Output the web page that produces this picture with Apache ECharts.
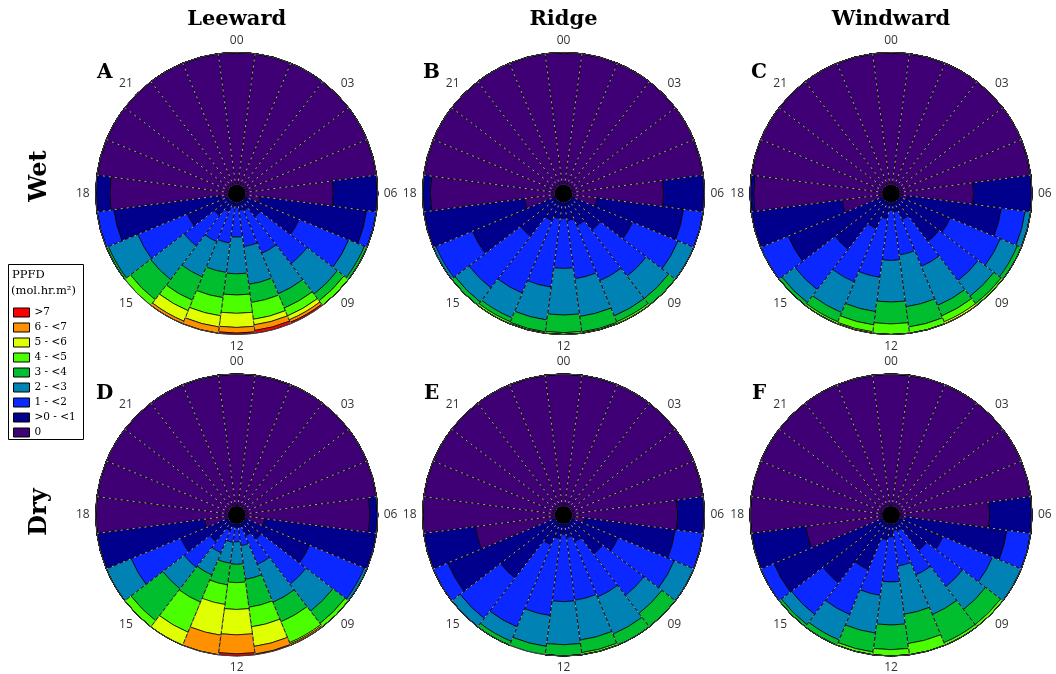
<!DOCTYPE html>
<html>
<head>
<meta charset="utf-8">
<script src="https://cdn.jsdelivr.net/npm/echarts@6/dist/echarts.min.js"></script>
<style>
  html, body { margin: 0; padding: 0; background: #fff; }
  #chart { width: 1056px; height: 674px; }
</style>
</head>
<body>
<div id="chart"></div>
<script>
// Hour of day around each clock (00 at the top, clockwise)
const hours = ['00','01','02','03','04','05','06','07','08','09','10','11',
               '12','13','14','15','16','17','18','19','20','21','22','23'];

// PPFD classes, stacked from the centre outwards
const classNames = ['0', '>0 - <1', '1 - <2', '2 - <3', '3 - <4', '4 - <5', '5 - <6', '6 - <7', '>7'];
const classColors = ['#3e0074', '#00008c', '#0a28ff', '#0082b4', '#00be2e', '#4cff00', '#e0ff00', '#ff9000', '#ff0000'];

// Share of days (%) in each class, one row per hour: [0, >0-<1, 1-<2, 2-<3, 3-<4, 4-<5, 5-<6, 6-<7, >7]
const leewardWet = [
  [100], [100], [100], [100], [100], [100],
  [68.5, 31.5],
  [17, 76, 7],
  [4, 44, 38, 12, 2],
  [3, 18, 42, 27, 6, 4],
  [3, 10, 33, 31, 11, 6, 3, 2, 1],
  [3, 9, 26, 27, 13, 12, 4, 4, 2],
  [3, 7, 21, 26, 15, 13, 10, 4, 1],
  [2, 8, 25.5, 21, 18, 13, 8, 4.5],
  [3, 11, 23, 27, 18, 8, 8, 2],
  [3, 17, 27, 30, 18, 5],
  [4, 34, 38, 22.5, 1.5],
  [12, 76, 12],
  [90, 10],
  [100], [100], [100], [100], [100]
];

const ridgeWet = [
  [100], [100], [100], [100], [100], [100],
  [71, 29],
  [24, 62, 14],
  [3, 50, 35, 12],
  [3, 30, 41, 20, 6],
  [3, 21.5, 42.5, 27, 4.5, 1.5],
  [3, 16.5, 41.5, 27, 11, 1],
  [3, 14.7, 35.5, 33, 12.5, 1.3],
  [3, 15, 49, 23.5, 8.5, 1],
  [3, 18, 55.5, 19, 3, 1.5],
  [3, 35.5, 46, 12.5, 3],
  [3, 67, 28, 2],
  [28, 72],
  [94.5, 5.5],
  [100], [100], [100], [100], [100]
];

const windwardWet = [
  [100], [100], [100], [100], [100], [100],
  [58.5, 41.5],
  [12, 67, 17, 4],
  [3, 42.5, 38.5, 13, 3],
  [3, 40, 35, 14, 6.5, 1.5],
  [3, 17, 36, 30, 8, 4.5, 1.5],
  [3, 10.5, 30.5, 37, 14.5, 4.5],
  [3, 9, 35.5, 29.5, 15.5, 7.5],
  [3, 15, 42, 24.5, 9.5, 5, 1],
  [3, 24, 41, 23.5, 7, 1.5],
  [3, 47, 36, 11.5, 2.5],
  [3, 76, 21],
  [35, 65],
  [97.5, 2.5],
  [100], [100], [100], [100], [100]
];

const leewardDry = [
  [100], [100], [100], [100], [100], [100],
  [94.5, 5.5],
  [20, 80],
  [4, 52, 42, 2],
  [3, 19, 40, 24, 11, 3],
  [3, 13, 22, 29, 15, 16, 1, 1],
  [3, 6, 13, 24, 20, 14, 14, 5.5, 0.5],
  [3, 6.5, 9.5, 16, 13, 19, 18, 13.5, 1.5],
  [3, 5.5, 11, 15, 15.5, 14, 22, 14],
  [3, 9, 17, 17, 21, 23, 10],
  [3, 21, 23, 19, 28.5, 5.5],
  [3, 40, 38, 19],
  [23, 77],
  [100],
  [100], [100], [100], [100], [100]
];

const ridgeDry = [
  [100], [100], [100], [100], [100], [100],
  [81, 19],
  [15, 65, 20],
  [3, 39, 43, 15],
  [3, 32, 37, 16, 12],
  [3, 17.5, 42.5, 28.5, 8.5],
  [3, 13, 45, 28.5, 9, 1.5],
  [3, 11, 47.5, 30.5, 8],
  [3, 14, 55, 22, 6],
  [4, 19, 63, 11, 3],
  [4, 52.5, 36, 7.5],
  [5, 84, 11],
  [63, 37],
  [100],
  [100], [100], [100], [100], [100]
];

const windwardDry = [
  [100], [100], [100], [100], [100], [100],
  [70, 30],
  [10, 73, 17],
  [3, 37, 38, 22],
  [3, 29, 32, 20.5, 13.5, 2],
  [3, 9, 34, 30.5, 21.5, 2],
  [3, 8, 25.5, 34.5, 21, 8],
  [3, 12.5, 32, 30.5, 17.5, 4.5],
  [3, 15, 39.5, 27, 13.5, 2],
  [3, 39, 34.5, 19.5, 4],
  [4, 57, 28, 9, 2],
  [4, 86, 10],
  [61, 39],
  [100],
  [100], [100], [100], [100], [100]
];

const columnTitles = ['Leeward', 'Ridge', 'Windward'];
const rowTitles = ['Wet', 'Dry'];
const panelLetters = ['A', 'B', 'C', 'D', 'E', 'F'];

// Layout of the six clocks
const colX = [236.7, 563.5, 891];
const rowY = [193.5, 515];
const clockRadius = 141;
const panelRows = [leewardWet, ridgeWet, windwardWet, leewardDry, ridgeDry, windwardDry];

const serif = '"DejaVu Serif", "Liberation Serif", serif';

const polar = [], angleAxis = [], radiusAxis = [], series = [];
const graphic = [];
panelRows.forEach((rows, p) => {
  const cx = colX[p % 3], cy = rowY[Math.floor(p / 3)];
  polar.push({ center: [cx, cy], radius: clockRadius });
  angleAxis.push({
    polarIndex: p,
    type: 'category',
    data: hours,
    startAngle: 97.5,
    clockwise: true,
    boundaryGap: true,
    z: 5,
    axisLine: { show: true, lineStyle: { color: '#444', width: 1 } },
    axisTick: { show: false, interval: 0 },
    axisLabel: { interval: 2, margin: 6, color: '#333', fontSize: 12, fontFamily: '"Open Sans", sans-serif' },
    splitLine: { show: true, interval: 0, lineStyle: { color: '#b8b8b8', width: 1, type: [2, 4], opacity: 0.9 } }
  });
  radiusAxis.push({
    polarIndex: p,
    type: 'value', min: 0, max: 100,
    axisLine: { show: false }, axisTick: { show: false },
    axisLabel: { show: false }, splitLine: { show: false }
  });
  classNames.forEach((name, c) => {
    series.push({
      type: 'bar',
      coordinateSystem: 'polar',
      polarIndex: p,
      stack: 'clock' + p,
      name: name,
      barCategoryGap: '0%',
      data: rows.map(r => r[c] || 0),
      itemStyle: { color: classColors[c], borderColor: '#000', borderWidth: 0.7 },
      emphasis: { disabled: true },
      animation: false
    });
  });
  // dark hub where the sector edges meet
  graphic.push({ type: 'circle', shape: { cx: cx, cy: cy, r: 9 }, style: { fill: '#000' }, z: 10 });
});

columnTitles.forEach((t, i) => {
  graphic.push({ type: 'text', x: colX[i], y: 20,
    style: { text: t, font: 'bold 21px ' + serif, fill: '#000', align: 'center', verticalAlign: 'middle' } });
});
rowTitles.forEach((t, i) => {
  graphic.push({ type: 'text', x: 40, y: [176, 512][i], rotation: Math.PI / 2,
    style: { text: t, font: 'bold 24px ' + serif, fill: '#000', align: 'center', verticalAlign: 'middle' } });
});
panelLetters.forEach((t, p) => {
  graphic.push({ type: 'text', x: colX[p % 3] - 132, y: rowY[Math.floor(p / 3)] - 121,
    style: { text: t, font: 'bold 20px ' + serif, fill: '#000', align: 'center', verticalAlign: 'middle' } });
});
// Legend frame and heading
graphic.push({ type: 'rect', shape: { x: 8.5, y: 264.5, width: 75, height: 175 },
  style: { fill: '#fff', stroke: '#000', lineWidth: 1 }, z: -1 });
graphic.push({ type: 'text', x: 12, y: 275,
  style: { text: 'PPFD', font: '11.5px ' + serif, fill: '#000', verticalAlign: 'middle' } });
graphic.push({ type: 'text', x: 11, y: 291,
  style: { text: '(mol.hr.m²)', font: '11.5px ' + serif, fill: '#000', verticalAlign: 'middle' } });

const option = {
  backgroundColor: '#fff',
  animation: false,
  polar, angleAxis, radiusAxis, series, graphic,
  legend: {
    orient: 'vertical',
    left: 8, top: 302,
    data: classNames.slice().reverse(),
    icon: 'rect',
    itemWidth: 16, itemHeight: 9, itemGap: 4,
    itemStyle: { borderColor: '#000', borderWidth: 1 },
    textStyle: { fontFamily: serif, fontSize: 10.5, color: '#000' },
    selectedMode: false
  }
};

const chart = echarts.init(document.getElementById('chart'), null, { renderer: 'canvas' });
chart.setOption(option);
</script>
</body>
</html>
